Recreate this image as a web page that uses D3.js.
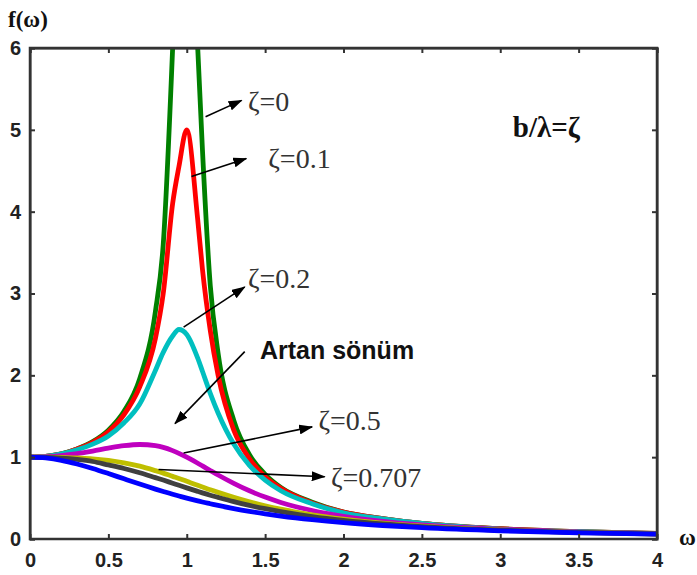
<!DOCTYPE html>
<html>
<head>
<meta charset="utf-8">
<script src="https://cdn.jsdelivr.net/npm/d3@7"></script>
<style>
  body { margin: 0; background: #fff; }
  svg { display: block; }
</style>
</head>
<body>
<div id="chart"></div>
<script>
// frequency response curves

const width = 697;
const height = 575;
const margin = {left: 30, right: 40, top: 48, bottom: 36};

// shared omega grid
const omega = [0, 0.1, 0.2, 0.3, 0.4, 0.5, 0.6, 0.7, 0.8, 0.85, 0.91, 0.95, 1.0, 1.07, 1.1, 1.15,
               1.2, 1.3, 1.4, 1.5, 1.6, 1.8, 2.0, 2.25, 2.5, 3.0, 3.5, 4.0];

// one array per damping ratio (null = off the top of the plot)
const zeta0   = [1, 1.01, 1.04, 1.10, 1.19, 1.33, 1.56, 1.96, 2.78, 3.6, 6.0, null, null, 6.0, 4.76, 3.10,
                 2.27, 1.45, 1.03, 0.79, 0.63, 0.45, 0.33, 0.25, 0.19, 0.125, 0.09, 0.067];
const zeta01  = [1, 1.01, 1.04, 1.10, 1.18, 1.31, 1.52, 1.86, 2.45, 3.0, 4.1, 4.55, 5.0, 3.9, 3.3, 2.55,
                 2.0, 1.33, 0.98, 0.76, 0.62, 0.44, 0.33, 0.25, 0.19, 0.125, 0.09, 0.067];
const zeta02  = [1, 1.01, 1.04, 1.09, 1.16, 1.26, 1.42, 1.65, 2.06, 2.28, 2.48, 2.56, 2.50, 2.21, 2.05, 1.78,
                 1.54, 1.16, 0.90, 0.72, 0.59, 0.43, 0.32, 0.245, 0.19, 0.12, 0.09, 0.066];
const zeta05  = [1, 1.005, 1.02, 1.044, 1.075, 1.11, 1.14, 1.155, 1.14, 1.12, 1.08, 1.047, 1.0, 0.926, 0.893, 0.837,
                 0.782, 0.68, 0.589, 0.512, 0.447, 0.348, 0.277, 0.215, 0.172, 0.117, 0.085, 0.064];
const zeta707 = [1, 1.0, 0.998, 0.99, 0.98, 0.96, 0.93, 0.89, 0.835, 0.805, 0.765, 0.74, 0.705, 0.656, 0.636, 0.602,
                 0.57, 0.509, 0.454, 0.406, 0.364, 0.295, 0.243, 0.194, 0.158, 0.11, 0.081, 0.062];
const zeta08  = [1, 0.997, 0.988, 0.972, 0.947, 0.905, 0.862, 0.81, 0.75, 0.72, 0.682, 0.657, 0.625, 0.582, 0.564, 0.535,
                 0.508, 0.456, 0.41, 0.37, 0.334, 0.274, 0.228, 0.184, 0.152, 0.107, 0.08, 0.061];
const zeta1   = [1, 0.99, 0.962, 0.917, 0.862, 0.80, 0.735, 0.671, 0.61, 0.581, 0.547, 0.526, 0.5, 0.466, 0.452, 0.431,
                 0.41, 0.372, 0.338, 0.308, 0.281, 0.236, 0.2, 0.165, 0.138, 0.10, 0.075, 0.059];

const seriesList = [
  {values: zeta0,   color: "#008000"},
  {values: zeta01,  color: "#ff0000"},
  {values: zeta02,  color: "#00bfbf"},
  {values: zeta05,  color: "#bf00bf"},
  {values: zeta707, color: "#bfbf00"},
  {values: zeta08,  color: "#404040"},
  {values: zeta1,   color: "#0000ff"}
];

const xTicks = [0, 0.5, 1, 1.5, 2, 2.5, 3, 3.5, 4];
const xTickLabels = ["0", "0.5", "1", "1.5", "2", "2.5", "3", "3.5", "4"];
const yTicks = [0, 1, 2, 3, 4, 5, 6];

// annotation arrows: [from omega, from f, to omega, to f], label at [omega, f]
const notes = [
  {text: "\u03B6=0",     from: [1.12, 5.16], to: [1.35, 5.36], at: [1.39, 5.23]},
  {text: "\u03B6=0.1",   from: [1.03, 4.43], to: [1.38, 4.65], at: [1.52, 4.53]},
  {text: "\u03B6=0.2",   from: [0.98, 2.59], to: [1.37, 3.08], at: [1.39, 3.07]},
  {text: "\u03B6=0.5",   from: [0.98, 1.05], to: [1.80, 1.37], at: [1.84, 1.33]},
  {text: "\u03B6=0.707", from: [0.82, 0.85], to: [1.88, 0.76], at: [1.92, 0.64]}
];

const svg = d3.select("#chart")
  .append("svg")
  .attr("width", width)
  .attr("height", height);

const x = d3.scaleLinear().domain([0, 4]).range([margin.left, width - margin.right]);
const y = d3.scaleLinear().domain([0, 6]).range([height - margin.bottom, margin.top]);

svg.append("defs").append("clipPath").attr("id", "plot")
  .append("rect")
  .attr("x", x(0)).attr("y", y(6))
  .attr("width", x(4) - x(0)).attr("height", y(0) - y(6));

svg.select("defs").append("marker")
  .attr("id", "head")
  .attr("viewBox", "0 0 14 10")
  .attr("refX", 13).attr("refY", 5)
  .attr("markerWidth", 14).attr("markerHeight", 10)
  .attr("markerUnits", "userSpaceOnUse")
  .attr("orient", "auto")
  .append("path").attr("d", "M0,0 L14,5 L0,10 Z").attr("fill", "#000");

// curves
const line = d3.line()
  .defined(d => d[1] != null)
  .x(d => x(d[0]))
  .y(d => y(d[1]))
  .curve(d3.curveMonotoneX);

const curves = svg.append("g").attr("clip-path", "url(#plot)");
seriesList.forEach(s => {
  curves.append("path")
    .datum(omega.map((w, i) => [w, s.values[i]]))
    .attr("fill", "none")
    .attr("stroke", s.color)
    .attr("stroke-width", 4.8)
    .attr("stroke-linejoin", "round")
    .attr("d", line);
});

// axes, ticks inward on all four sides
const frameColor = "#333";
svg.append("g")
  .attr("transform", `translate(0,${y(0)})`)
  .call(d3.axisBottom(x).tickValues(xTicks).tickFormat((d, i) => xTickLabels[i]).tickSize(-5).tickPadding(14))
  .call(g => g.select(".domain").remove());
svg.append("g")
  .attr("transform", `translate(0,${y(6)})`)
  .call(d3.axisTop(x).tickValues(xTicks).tickFormat("").tickSize(-5));
svg.append("g")
  .attr("transform", `translate(${x(0)},0)`)
  .call(d3.axisLeft(y).tickValues(yTicks).tickFormat(d3.format("d")).tickSize(-5).tickPadding(9));
svg.append("g")
  .attr("transform", `translate(${x(4)},0)`)
  .call(d3.axisRight(y).tickValues(yTicks).tickFormat("").tickSize(-5));

svg.selectAll(".domain, .tick line").attr("stroke", frameColor).attr("stroke-width", 2);
svg.append("rect")
  .attr("x", x(0)).attr("y", y(6))
  .attr("width", x(4) - x(0)).attr("height", y(0) - y(6))
  .attr("fill", "none").attr("stroke", frameColor).attr("stroke-width", 2.5);

svg.selectAll(".tick text")
  .attr("font-family", "Liberation Sans, Arial, sans-serif")
  .attr("font-weight", "bold")
  .attr("font-size", 20)
  .attr("fill", "#222");

// annotations
notes.forEach(n => {
  svg.append("line")
    .attr("x1", x(n.from[0])).attr("y1", y(n.from[1]))
    .attr("x2", x(n.to[0])).attr("y2", y(n.to[1]))
    .attr("stroke", "#000").attr("stroke-width", 1.6)
    .attr("marker-end", "url(#head)");
  svg.append("text")
    .attr("x", x(n.at[0])).attr("y", y(n.at[1]))
    .attr("font-family", "Liberation Serif, Times New Roman, serif")
    .attr("font-size", 28)
    .attr("fill", "#333")
    .text(n.text);
});

// "Artan sönüm" (increasing damping)
svg.append("line")
  .attr("x1", x(1.37)).attr("y1", y(2.29))
  .attr("x2", x(0.925)).attr("y2", y(1.41))
  .attr("stroke", "#000").attr("stroke-width", 1.6)
  .attr("marker-end", "url(#head)");
svg.append("text")
  .attr("x", x(1.467)).attr("y", y(2.2))
  .attr("font-family", "Liberation Sans, Arial, sans-serif")
  .attr("font-weight", "bold")
  .attr("font-size", 25)
  .attr("fill", "#111")
  .text("Artan sönüm");

svg.append("text")
  .attr("x", x(3.08)).attr("y", y(4.91))
  .attr("font-family", "Liberation Serif, Times New Roman, serif")
  .attr("font-weight", "bold")
  .attr("font-size", 29)
  .attr("fill", "#111")
  .text("b/\u03BB=\u03B6");

// axis titles
svg.append("text")
  .attr("x", 8).attr("y", 27)
  .attr("font-family", "Liberation Serif, Times New Roman, serif")
  .attr("font-weight", "bold")
  .attr("font-size", 23)
  .attr("fill", "#111")
  .text("f(\u03C9)");
svg.append("text")
  .attr("x", 679).attr("y", 545)
  .attr("font-family", "Liberation Serif, Times New Roman, serif")
  .attr("font-weight", "bold")
  .attr("font-size", 23)
  .attr("fill", "#111")
  .text("\u03C9");
</script>
</body>
</html>
